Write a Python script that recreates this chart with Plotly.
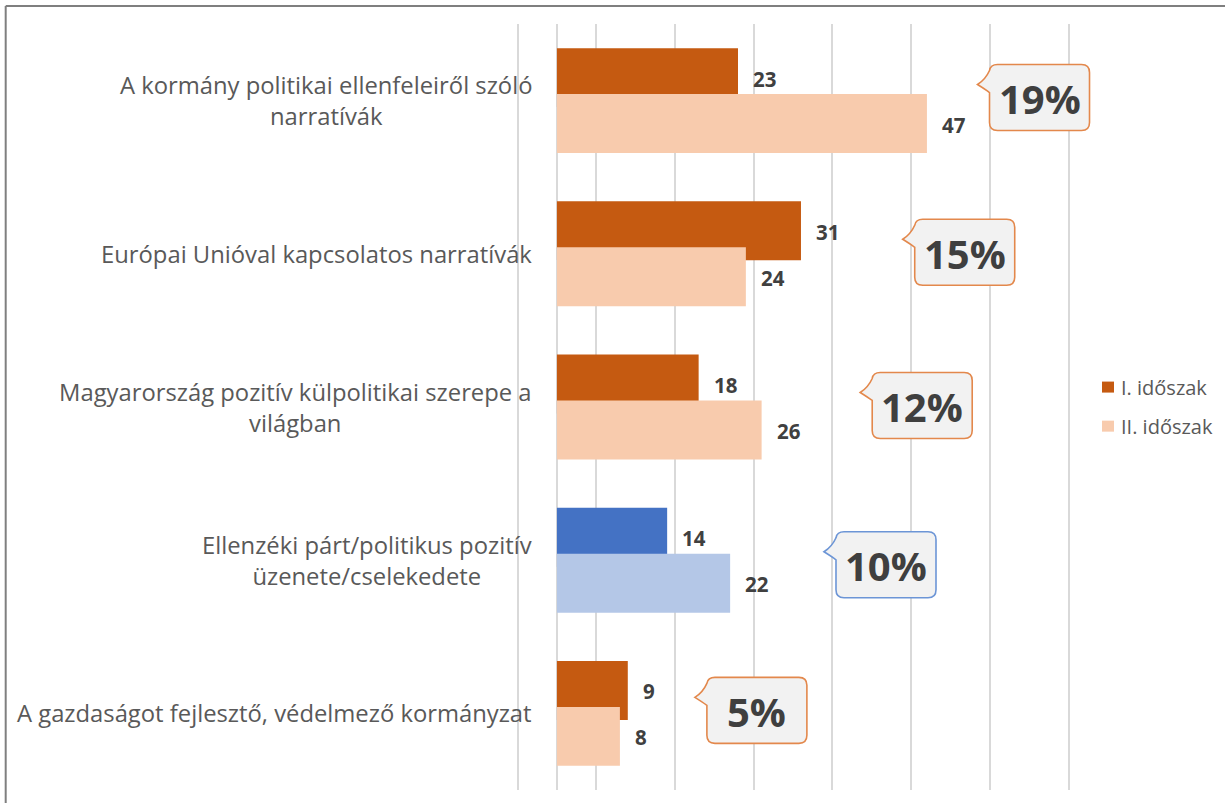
import plotly.graph_objects as go

# --- data -------------------------------------------------------------
categories = [
    "A kormány politikai ellenfeleiről szóló<br>narratívák",
    "Európai Unióval kapcsolatos narratívák",
    "Magyarország pozitív külpolitikai szerepe a<br>világban",
    "Ellenzéki párt/politikus pozitív<br>üzenete/cselekedete",
    "A gazdaságot fejlesztő, védelmező kormányzat",
]
period_1 = [23, 31, 18, 14, 9]
period_2 = [47, 24, 26, 22, 8]
shares = [19, 15, 12, 10, 5]
series_names = ["I. időszak", "II. időszak"]

# --- styling ----------------------------------------------------------
ORANGE_DARK, ORANGE_LIGHT = "#C55A11", "#F8CBAD"
BLUE_DARK, BLUE_LIGHT = "#4472C4", "#B4C7E7"
highlight = 3  # the opposition category is drawn in blue
colors_1 = [BLUE_DARK if i == highlight else ORANGE_DARK for i in range(len(categories))]
colors_2 = [BLUE_LIGHT if i == highlight else ORANGE_LIGHT for i in range(len(categories))]
callout_line = ["#6C95D6" if i == highlight else "#E3884C" for i in range(len(categories))]

FONT = "Open Sans"
TEXT_GREY = "#595959"
VALUE_GREY = "#404040"

# callout placement (data x, y offset from group centre)
callout_x = [61.3, 51.8, 46.4, 41.8, 25.4]
callout_dy = [-0.02, -0.01, -0.01, 0.03, -0.02]

bar_w = 0.385
shift = 0.15
pos = list(range(len(categories)))

fig = go.Figure()
fig.add_trace(go.Bar(
    x=period_1, y=[p - shift for p in pos], orientation="h", width=bar_w,
    marker=dict(color=colors_1, line=dict(width=0)), name=series_names[0],
    showlegend=False, hoverinfo="x",
))
fig.add_trace(go.Bar(
    x=period_2, y=[p + shift for p in pos], orientation="h", width=bar_w,
    marker=dict(color=colors_2, line=dict(width=0)), name=series_names[1],
    showlegend=False, hoverinfo="x",
))

annotations = []
shapes = []

# value labels next to bar ends
for i in pos:
    for vals, dy in ((period_1, -shift), (period_2, shift)):
        annotations.append(dict(
            x=vals[i], y=i + dy, xref="x", yref="y", text=str(vals[i]),
            showarrow=False, xanchor="left", xshift=13, yshift=-1,
            font=dict(family=FONT, size=20.5, color=VALUE_GREY, weight="bold"),
        ))

# category labels (centred lines, right edge near the axis)
label_x = 0.0296
for i, label in enumerate(categories):
    annotations.append(dict(
        x=label_x, y=i, xref="paper", yref="y", text=label, showarrow=False,
        xanchor="right", align="center",
        font=dict(family=FONT, size=23.8, color=TEXT_GREY),
    ))

# speech-bubble callouts with the share
bubble = ("M -42,33 L 42,33 Q 50,33 50,25 L 50,-25 Q 50,-33 42,-33 "
          "L -42,-33 Q -50,-33 -50,-25 L -50,5 Q -54,8 -62,13 "
          "Q -54,18 -50,27 Q -49,33 -42,33 Z")
for i, s in enumerate(shares):
    cy = i + callout_dy[i]
    shapes.append(dict(
        type="path", xref="x", yref="y", xsizemode="pixel", ysizemode="pixel",
        xanchor=callout_x[i], yanchor=cy, path=bubble,
        fillcolor="#F2F2F2", line=dict(color=callout_line[i], width=1.6),
        layer="above",
    ))
    annotations.append(dict(
        x=callout_x[i], y=cy, xref="x", yref="y", text=f"{s}%",
        showarrow=False, xanchor="center", yanchor="middle", yshift=-1,
        font=dict(family=FONT, size=40, color="#3F3F3F", weight="bold"),
    ))

# legend
legend_y = [0.526, 0.475]
for name, col, ly in zip(series_names, [ORANGE_DARK, ORANGE_LIGHT], legend_y):
    shapes.append(dict(
        type="rect", xref="paper", yref="paper", xsizemode="pixel",
        ysizemode="pixel", xanchor=1.0, yanchor=ly, x0=-6, x1=6, y0=-5.5, y1=5.5,
        fillcolor=col, line=dict(width=0),
    ))
    annotations.append(dict(
        x=1.0, y=ly, xref="paper", yref="paper", text=name, showarrow=False,
        xanchor="left", xshift=11,
        font=dict(family=FONT, size=20, color=TEXT_GREY),
    ))

# outer frame (top and left edges)
frame = "#7F7F7F"
shapes.append(dict(type="line", xref="paper", yref="paper",
                   x0=-0.862, x1=1.3, y0=1.0235, y1=1.0235,
                   line=dict(color=frame, width=2)))
shapes.append(dict(type="line", xref="paper", yref="paper",
                   x0=-0.862, x1=-0.862, y0=1.0235, y1=-0.1,
                   line=dict(color=frame, width=2)))

fig.update_layout(
    width=1225, height=803,
    margin=dict(l=516, r=117, t=24, b=13),
    paper_bgcolor="white", plot_bgcolor="white",
    barmode="overlay",
    xaxis=dict(range=[-5.2, 70], tick0=-5, dtick=10, showticklabels=False,
               showgrid=True, gridcolor="#D9D9D9", gridwidth=1.5,
               zeroline=True, zerolinecolor="#D9D9D9", zerolinewidth=1.5,
               showline=False, ticks=""),
    yaxis=dict(range=[len(categories) - 0.5, -0.5], showticklabels=False,
               showgrid=False, zeroline=False, showline=False, ticks=""),
    annotations=annotations, shapes=shapes,
    font=dict(family=FONT),
)

fig.write_html("out.html")
